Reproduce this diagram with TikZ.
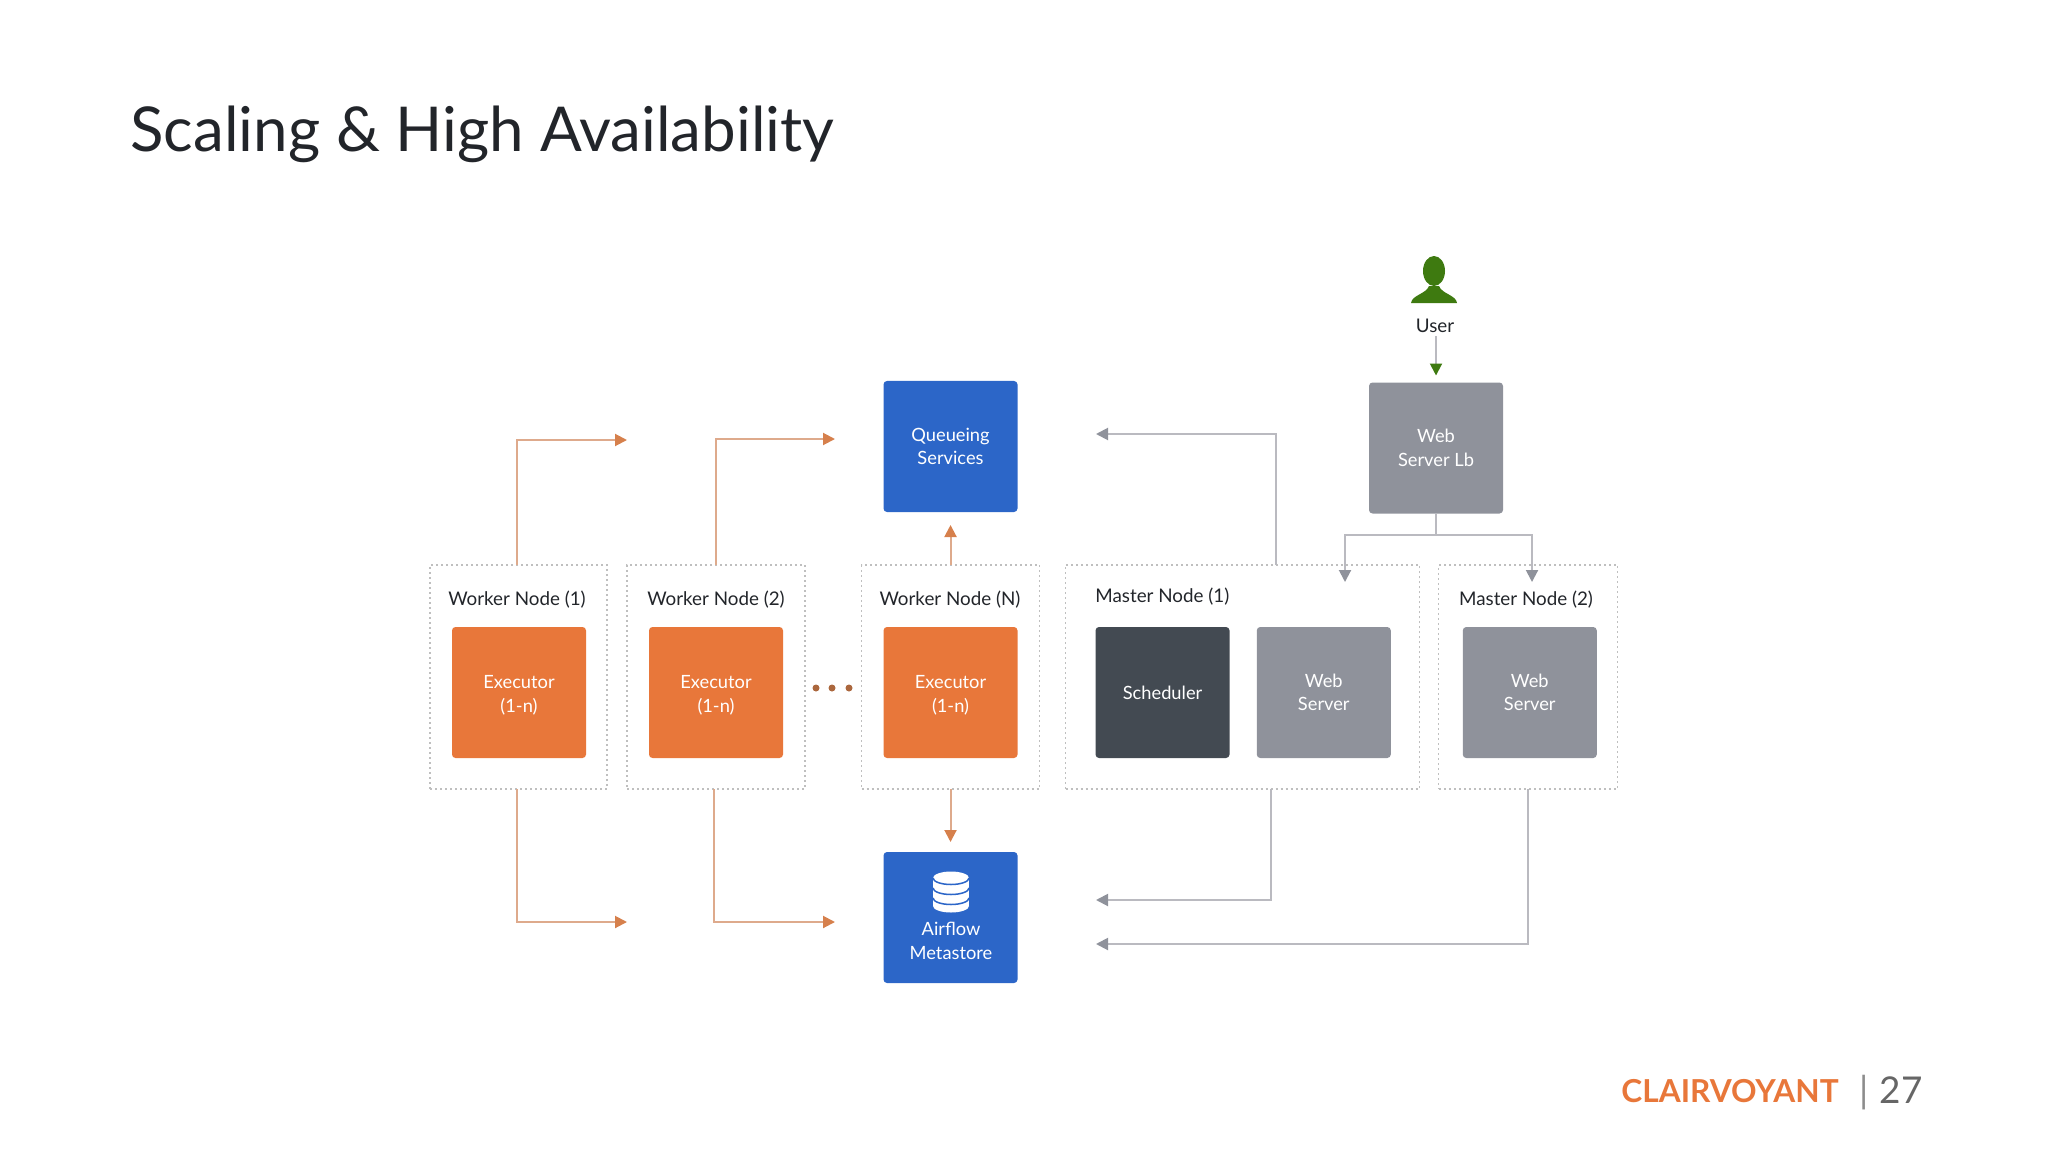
\documentclass[tikz,border=0pt]{standalone}
\usepackage{xcolor}
\usepackage{fontspec}
\setmainfont{Lato}
\usetikzlibrary{positioning,arrows.meta,fit,backgrounds,calc}
\definecolor{haOrange}{RGB}{232,119,58}
\definecolor{haOrangeLine}{RGB}{222,170,140}
\definecolor{haOrangeTip}{RGB}{214,128,76}
\definecolor{haBlue}{RGB}{44,102,200}
\definecolor{haGray}{RGB}{143,146,155}
\definecolor{haGrayLine}{RGB}{186,186,192}
\definecolor{haDark}{RGB}{67,74,82}
\definecolor{haGreen}{RGB}{62,122,16}
\definecolor{haText}{RGB}{34,37,42}
\newcommand{\exectxt}{\rule{0pt}{10.5pt}Executor\\(1-n)}
\tikzset{
  ha/box/.style={rounded corners=2pt, align=center, inner sep=0pt, outer sep=0pt,
                 minimum width=26.8mm, minimum height=26.2mm, text=white,
                 font=\fontsize{10.4}{13.4}\selectfont},
  ha/exec/.style={ha/box, fill=haOrange},
  ha/store/.style={ha/box, fill=haBlue},
  ha/web/.style={ha/box, fill=haGray},
  ha/sched/.style={ha/box, fill=haDark},
  ha/frame/.style={draw=black!25, line width=0.25mm, dash pattern=on 0.4mm off 0.6mm,
                   inner sep=0pt, outer sep=0pt},
  ha/lbl/.style={font=\fontsize{10.7}{13}\selectfont, text=haText, inner sep=0pt},
  ha/arrow/.style={-{Triangle[length=2.4mm, width=2.4mm, color=haOrangeTip]},
                   line width=0.4mm, draw=haOrangeLine},
  ha/gray arrow/.style={-{Triangle[length=2.4mm, width=2.4mm, color=haGray]},
                   line width=0.4mm, draw=haGrayLine},
  ha/green arrow/.style={-{Triangle[length=2.4mm, width=2.4mm, color=haGreen]},
                   line width=0.4mm, draw=haGrayLine},
}
\begin{document}
\begin{tikzpicture}[x=0.2mm, y=-0.2mm]
  \useasboundingbox (0,0) rectangle (2048,1152);

  % ---------------- title and footer ----------------
  \node[anchor=base west, inner sep=0pt, text=haText, font=\fontsize{35.2}{38}\selectfont]
    (title) at (130,152) {Scaling \& High Availability};
  \node[anchor=base east, inner sep=0pt, text=haOrange, font=\fontsize{18}{20}\selectfont\bfseries]
    (brand) at (1839,1102) {CLAIRVOYANT};
  \node[anchor=base, inner sep=0pt, text=black!45, font=\fontsize{21}{24}\selectfont]
    (sep) at (1864,1103) {|};
  \node[anchor=base east, inner sep=0pt, text=black!60, font=\fontsize{21}{24}\selectfont]
    (page) at (1923,1103) {27};

  % ---------------- executor row ----------------
  \node[ha/exec] (exec1) at (519,692.5) {\exectxt};
  \node[ha/exec, right=12.6mm of exec1] (exec2) {\exectxt};
  \node[ha/exec, right=20.1mm of exec2] (execN) {\exectxt};
  \node[ha/sched, right=15.6mm of execN] (sched) {Scheduler};
  \node[ha/web, right=5.45mm of sched] (web1) {Web\\Server};
  \node[ha/web, right=14.4mm of web1] (web2) {Web\\Server};

  % ---------------- stores and load balancer ----------------
  \node[ha/store, above=23mm of execN] (queue) {Queueing\\Services};
  \node[ha/store, below=18.8mm of execN] (meta) {};
  \node[ha/web] (lb) at (1436,448) {Web\\Server Lb};
  \node[text=white, align=center, inner sep=0pt, font=\fontsize{10.4}{13.4}\selectfont]
    (metalbl) at (951,941) {Airflow\\Metastore};

  % database icon
  \fill[white] (933,878) rectangle (969,906);
  \fill[white] (951,878) ellipse [x radius=3.6mm, y radius=1.3mm];
  \fill[white] (951,906) ellipse [x radius=3.6mm, y radius=1.3mm];
  \foreach \ypos in {878,888,898} {
    \draw[haBlue, line width=0.3mm] (933,\ypos) arc [start angle=180, end angle=360,
      x radius=3.6mm, y radius=1.3mm];
  }

  % ---------------- dashed frames ----------------
  \begin{scope}[on background layer]
    \node[ha/frame, fit={([xshift=-4.4mm, yshift=12.4mm]exec1.north west)
                         ([xshift=4.2mm, yshift=-6.2mm]exec1.south east)}] (worker1) {};
    \node[ha/frame, fit={([xshift=-4.4mm, yshift=12.4mm]exec2.north west)
                         ([xshift=4.4mm, yshift=-6.2mm]exec2.south east)}] (worker2) {};
    \node[ha/frame, fit={([xshift=-4.4mm, yshift=12.4mm]execN.north west)
                         ([xshift=4.4mm, yshift=-6.2mm]execN.south east)}] (workerN) {};
    \node[ha/frame, fit={([xshift=-6mm, yshift=12.4mm]sched.north west)
                         ([xshift=5.8mm, yshift=-6.2mm]web1.south east)}] (master1) {};
    \node[ha/frame, fit={([xshift=-4.8mm, yshift=12.4mm]web2.north west)
                         ([xshift=4.2mm, yshift=-6.2mm]web2.south east)}] (master2) {};
  \end{scope}
  \node[ha/lbl] (worker1lbl) at (517,600) {Worker Node (1)};
  \node[ha/lbl] (worker2lbl) at (716,600) {Worker Node (2)};
  \node[ha/lbl] (workerNlbl) at (950,600) {Worker Node (N)};
  \node[ha/lbl, anchor=west] (master1lbl) at (1095,596.5) {Master Node (1)};
  \node[ha/lbl] (master2lbl) at (1526,600) {Master Node (2)};

  % ---------------- dots between workers ----------------
  \foreach \xpos in {816,832,849} {
    \fill[haOrangeTip!80!black] (\xpos,688) circle [radius=0.7mm];
  }

  % ---------------- user ----------------
  \coordinate (user) at (1434,256);
  \fill[haGreen] (1434,271) ellipse [x radius=2.2mm, y radius=3mm];
  \fill[haGreen] (1411,303) .. controls (1412,295) and (1426,294) .. (1429,286)
    -- (1439,286) .. controls (1442,294) and (1456,295) .. (1457,303) -- cycle;
  \node[ha/lbl] (userlbl) at (1435,326) {User};
  \draw[ha/green arrow, shorten >=1.4mm, shorten <=0.6mm] (userlbl.south -| lb.north) -- (lb.north);

  % ---------------- worker edges ----------------
  \coordinate (queuein1) at (627,440);
  \coordinate (queuein2) at (835,439);
  \coordinate (metain1) at (627,922);
  \coordinate (metain2) at (835,922);
  \draw[ha/arrow] ([xshift=-0.3mm]worker1.north) |- (queuein1);
  \draw[ha/arrow] (worker2.north) |- (queuein2);
  \draw[ha/arrow, shorten >=2.6mm] (workerN.north) -- (queue.south);
  \draw[ha/arrow] ([xshift=-0.3mm]worker1.south) |- (metain1);
  \draw[ha/arrow] ([xshift=-0.4mm]worker2.south) |- (metain2);
  \draw[ha/arrow, shorten >=2mm] (workerN.south) -- (meta.north);

  % ---------------- master edges ----------------
  \coordinate (queuein3) at (1096,434);
  \coordinate (metain3) at (1096,900);
  \coordinate (metain4) at (1096,944);
  \draw[ha/gray arrow] ([xshift=6.6mm]master1.north) |- (queuein3);
  \draw[ha/gray arrow] ([xshift=5.6mm]master1.south) |- (metain3);
  \draw[ha/gray arrow] (master2.south) |- (metain4);

  % Split under the load balancer, one branch per master.
  \coordinate (lbsplit) at ([yshift=-4.2mm]lb.south);
  \coordinate (master1in) at (1345,582);
  \coordinate (master2in) at (1532,582);
  \draw[ha/gray arrow] (lb.south) -- (lbsplit) -| (master1in);
  \draw[ha/gray arrow] (lbsplit) -| (master2in);

\end{tikzpicture}
\end{document}
